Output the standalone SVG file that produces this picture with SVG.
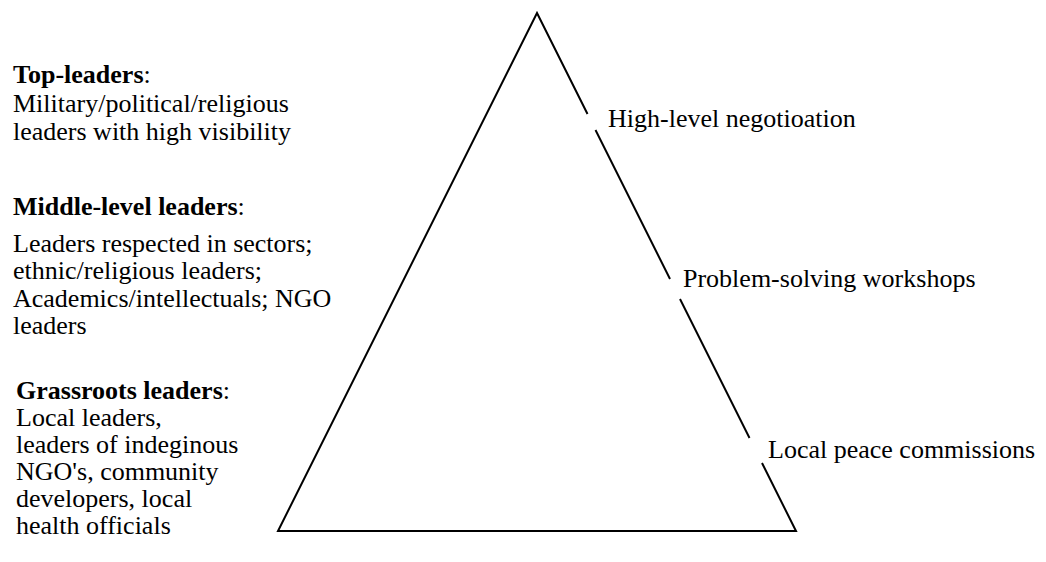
<svg xmlns="http://www.w3.org/2000/svg" width="1046" height="562" viewBox="0 0 1046 562">
<style>
.t{font-family:"Liberation Serif","Times New Roman",serif;font-size:26px;fill:#000}
.b{font-weight:bold}
.e{stroke:#000;stroke-width:2;fill:none;stroke-linecap:butt;stroke-linejoin:miter}
</style>
<rect width="1046" height="562" fill="#fff"/>
<g id="connectors">
<path class="e" d="M587.5,114 L537,13 L278,531 L796,531 L762,463"/>
<line class="e" x1="595.5" y1="130" x2="670" y2="279"/>
<line class="e" x1="680" y1="299" x2="749.5" y2="438"/>
</g>
<g id="top-leaders">
<text class="t" x="13" y="83"><tspan class="b">Top-leaders</tspan>:</text>
<text class="t" x="13" y="112">Military/political/religious</text>
<text class="t" x="13" y="140">leaders with high visibility</text>
</g>
<g id="middle-leaders">
<text class="t" x="13" y="215"><tspan class="b">Middle-level leaders</tspan>:</text>
<text class="t" x="13" y="252">Leaders respected in sectors;</text>
<text class="t" x="13" y="279">ethnic/religious leaders;</text>
<text class="t" x="13" y="307">Academics/intellectuals; NGO</text>
<text class="t" x="13" y="334">leaders</text>
</g>
<g id="grassroots-leaders">
<text class="t" x="16" y="399"><tspan class="b">Grassroots leaders</tspan>:</text>
<text class="t" x="16" y="426">Local leaders,</text>
<text class="t" x="16" y="453">leaders of indeginous</text>
<text class="t" x="16" y="480">NGO's, community</text>
<text class="t" x="16" y="507">developers, local</text>
<text class="t" x="16" y="534">health officials</text>
</g>
<g id="high-level">
<text class="t" x="608" y="127">High-level negotioation</text>
</g>
<g id="workshops">
<text class="t" x="683" y="287">Problem-solving workshops</text>
</g>
<g id="local-peace">
<text class="t" x="768" y="458">Local peace commissions</text>
</g>
</svg>
